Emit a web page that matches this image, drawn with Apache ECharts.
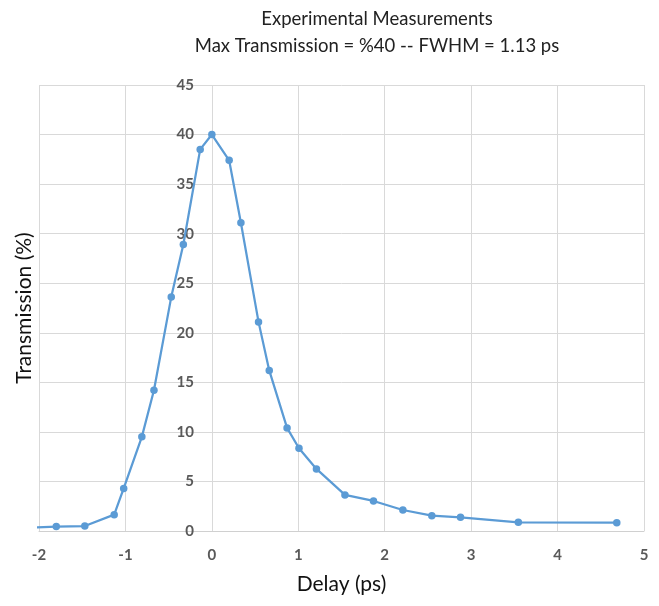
<!DOCTYPE html>
<html>
<head>
<meta charset="utf-8">
<script src="https://cdn.jsdelivr.net/npm/echarts@6/dist/echarts.min.js"></script>
<style>
  html, body { margin: 0; padding: 0; background: #fff; }
  #chart { width: 659px; height: 606px; }
</style>
</head>
<body>
<div id="chart"></div>
<script>
// Pump-probe delay (ps) and measured transmission (%)
const delay = [-2.2, -1.80, -1.47, -1.13, -1.02, -0.81, -0.67, -0.47, -0.33, -0.135, 0.0,
               0.20, 0.336, 0.54, 0.664, 0.87, 1.008, 1.21, 1.54, 1.87, 2.21, 2.545, 2.877, 3.546, 4.685];
const transmission = [0.3, 0.45, 0.5, 1.65, 4.3, 9.5, 14.2, 23.6, 28.9, 38.5, 40.0,
                      37.4, 31.1, 21.1, 16.2, 10.4, 8.35, 6.26, 3.64, 3.03, 2.12, 1.55, 1.38, 0.88, 0.84];

const titleLines = ['Experimental Measurements', 'Max Transmission = %40 -- FWHM = 1.13 ps'];
const xName = 'Delay (ps)';
const yName = 'Transmission (%)';

const font = 'Lato, "Open Sans", sans-serif';
const points = delay.map((d, i) => [d, transmission[i]]);

const chart = echarts.init(document.getElementById('chart'), null, { renderer: 'canvas' });
chart.setOption({
  animation: false,
  backgroundColor: '#ffffff',
  title: {
    text: titleLines.join('\n'),
    left: 372,
    top: 1,
    textAlign: 'center',
    textStyle: { fontFamily: font, fontSize: 18.5, fontWeight: 'normal', color: '#222', lineHeight: 27 }
  },
  grid: { left: 39, right: 15, top: 85, bottom: 75, containLabel: false },
  xAxis: {
    type: 'value',
    min: -2, max: 5, interval: 1,
    name: xName,
    nameLocation: 'middle',
    nameGap: 43,
    nameTextStyle: { fontFamily: font, fontSize: 21, color: '#111' },
    axisLine: { show: true, onZero: false, lineStyle: { color: '#d0d0d0', width: 1 } },
    axisTick: { show: false },
    axisLabel: { fontFamily: font, fontSize: 15, fontWeight: 'bold', color: '#595959', margin: 17 },
    splitLine: { show: true, lineStyle: { color: '#d9d9d9', width: 1 } }
  },
  yAxis: {
    type: 'value',
    min: 0, max: 45, interval: 5,
    name: yName,
    nameLocation: 'middle',
    nameGap: 4,
    nameTextStyle: { fontFamily: font, fontSize: 21, color: '#111' },
    axisLine: { show: false },
    axisTick: { show: false },
    // tick labels sit beside the zero-delay line
    axisLabel: { fontFamily: font, fontSize: 15, fontWeight: 'bold', color: '#595959', margin: -155 },
    splitLine: { show: true, lineStyle: { color: '#d9d9d9', width: 1 } }
  },
  series: [{
    type: 'line',
    data: points,
    clip: true,
    symbol: 'circle',
    symbolSize: 7.5,
    lineStyle: { color: '#5b9bd5', width: 2.25 },
    itemStyle: { color: '#5b9bd5' }
  }]
});
</script>
</body>
</html>
